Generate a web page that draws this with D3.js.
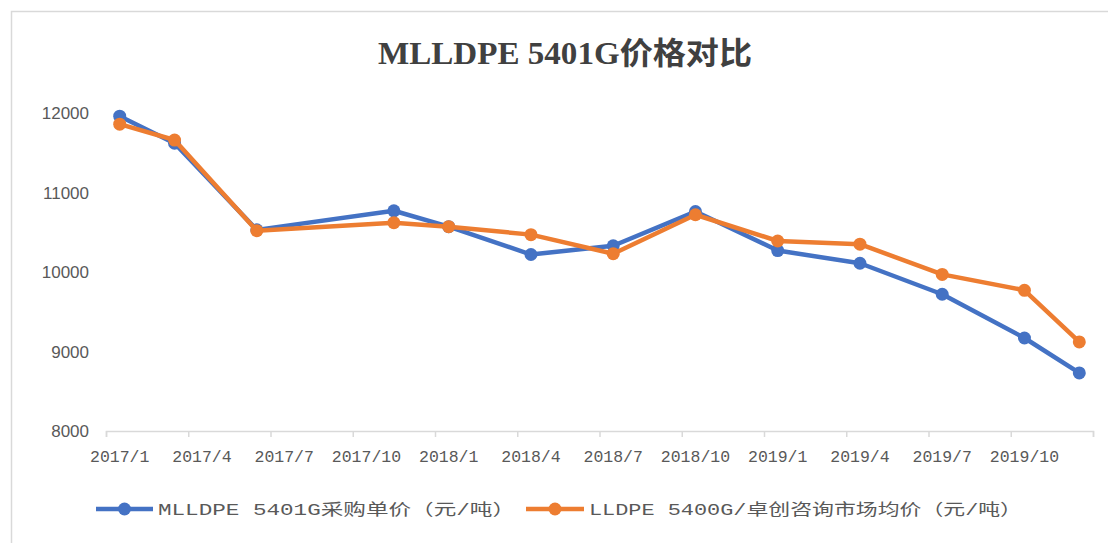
<!DOCTYPE html>
<html>
<head>
<meta charset="utf-8">
<script src="https://cdn.jsdelivr.net/npm/d3@7"></script>
<style>
  body { margin: 0; background: #fff; }
  svg { display: block; }
</style>
</head>
<body>
<svg id="chart" width="1108" height="543"></svg>
<script>
// months counted from 2017/1 (0 = 2017/1)
const months = [0, 2, 5, 10, 12, 15, 18, 21, 24, 27, 30, 33, 35]
const purchase = [11960, 11620, 10530, 10770, 10570, 10220, 10330, 10760, 10270, 10110, 9720, 9170, 8730]
const market = [11860, 11660, 10520, 10620, 10570, 10470, 10230, 10720, 10390, 10350, 9970, 9770, 9120]
const tickLabels = ["2017/1", "2017/4", "2017/7", "2017/10", "2018/1", "2018/4", "2018/7", "2018/10", "2019/1", "2019/4", "2019/7", "2019/10"]
const yTicks = [8000, 9000, 10000, 11000, 12000]
const seriesNames = ["MLLDPE  5401G采购单价（元/吨）", "LLDPE 5400G/卓创咨询市场均价（元/吨）"]
const colors = ["#4472C4", "#ED7D31"]

const svg = d3.select("#chart")
const mono = "'Liberation Mono', 'Noto Sans CJK SC', monospace"

// chart frame
svg.append("rect")
    .attr("x", 11.5).attr("y", 11.5)
    .attr("width", 1120).attr("height", 560)
    .attr("fill", "none").attr("stroke", "#d9d9d9").attr("stroke-width", 1.5)

const x = d3.scaleLinear().domain([0, 36]).range([106, 1093])
const y = d3.scaleLinear().domain([8000, 12000]).range([431, 113])

// title
svg.append("text")
    .attr("x", 565).attr("y", 64)
    .attr("text-anchor", "middle")
    .attr("font-family", "'Liberation Serif', 'Noto Sans CJK SC', serif")
    .attr("font-weight", "bold")
    .attr("font-size", 31)
    .attr("fill", "#404040")
    .attr("textLength", 374).attr("lengthAdjust", "spacingAndGlyphs")
    .text("MLLDPE 5401G价格对比")

// y labels
svg.append("g").selectAll("text").data(yTicks).join("text")
    .attr("x", 89).attr("y", d => y(d) + 6)
    .attr("text-anchor", "end")
    .attr("font-family", "'Liberation Sans', Arial, sans-serif")
    .attr("font-size", 17)
    .attr("fill", "#595959")
    .text(d => d)

// x axis line + ticks
const xAxis = d3.axisBottom(x)
    .tickValues(d3.range(0, 37, 3))
    .tickSize(6)
    .tickFormat("")
svg.append("g")
    .attr("transform", `translate(0,${y(8000)})`)
    .call(xAxis)
    .call(g => g.selectAll("path, line").attr("stroke", "#d9d9d9").attr("stroke-width", 1.5))

svg.append("g").selectAll("text").data(tickLabels).join("text")
    .attr("x", (d, i) => x(i * 3 + 0.5))
    .attr("y", 462)
    .attr("text-anchor", "middle")
    .attr("font-family", mono)
    .attr("font-size", 16.5)
    .attr("fill", "#595959")
    .text(d => d)

// series
const line = d3.line()
    .x(d => x(d[0] + 0.5))
    .y(d => y(d[1]))

;[purchase, market].forEach((vals, i) => {
    const pts = months.map((m, j) => [m, vals[j]])
    const g = svg.append("g")
    g.append("path")
        .attr("d", line(pts))
        .attr("fill", "none")
        .attr("stroke", colors[i])
        .attr("stroke-width", 4.5)
        .attr("stroke-linejoin", "round")
    g.selectAll("circle").data(pts).join("circle")
        .attr("cx", d => x(d[0] + 0.5))
        .attr("cy", d => y(d[1]))
        .attr("r", 6.5)
        .attr("fill", colors[i])
})

// legend
const legendItems = [
    { x0: 96, x1: 153, tx: 158, tw: 357 },
    { x0: 526, x1: 584, tx: 589, tw: 433 }
]
legendItems.forEach((it, i) => {
    const g = svg.append("g")
    g.append("line")
        .attr("x1", it.x0).attr("x2", it.x1)
        .attr("y1", 509).attr("y2", 509)
        .attr("stroke", colors[i]).attr("stroke-width", 4.5)
    g.append("circle")
        .attr("cx", (it.x0 + it.x1) / 2).attr("cy", 509)
        .attr("r", 6.5).attr("fill", colors[i])
    g.append("text")
        .attr("x", it.tx).attr("y", 515)
        .attr("font-family", mono)
        .attr("font-size", 16)
        .attr("fill", "#595959")
        .attr("textLength", it.tw).attr("lengthAdjust", "spacingAndGlyphs")
        .text(seriesNames[i])
})
</script>
</body>
</html>
